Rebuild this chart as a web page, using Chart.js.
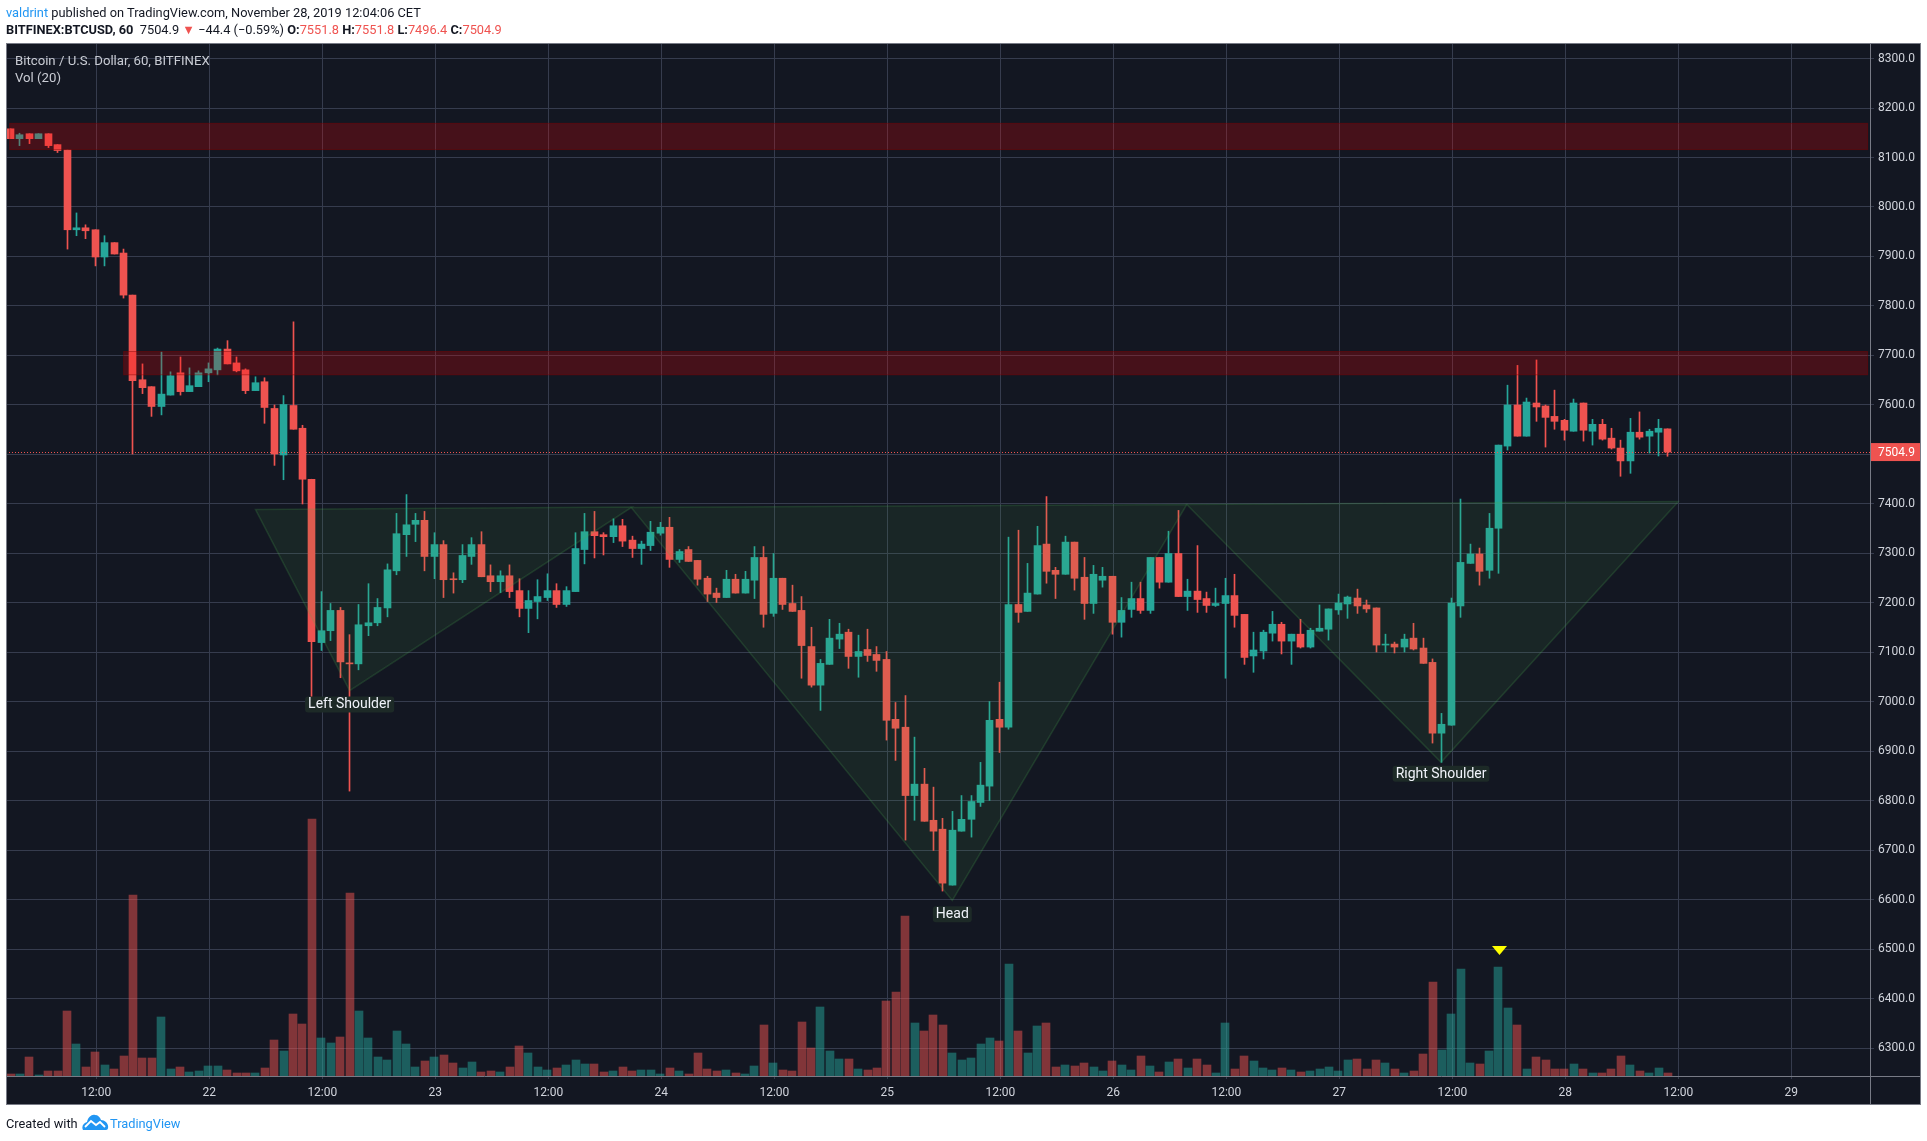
<!DOCTYPE html>
<html>
<head>
<meta charset="utf-8">
<title>BTCUSD 60</title>
<script src="https://cdn.jsdelivr.net/npm/chart.js@4/dist/chart.umd.min.js"></script>
<style>
    html, body { margin: 0; background: #fff; }
    body { width: 1927px; height: 1141px; position: relative; overflow: hidden; font-family: Roboto, sans-serif; }
    canvas { position: absolute; left: 0; top: 0; }
    .line { position: absolute; white-space: nowrap; font-size: 12.8px; color: #131722; }
    .up { color: #2196f3; }
    .down { color: #ef5350; }
    .chartText { color: #c9ccd4; font-size: 13.2px; }
    b { font-weight: 700; }
</style>
</head>
<body>
<canvas id="btcChart" width="1927" height="1141"></canvas>
<div class="line" style="left:6px;top:5px"><span class="up">valdrint</span> published on TradingView.com, November 28, 2019 12:04:06 CET</div>
<div class="line" style="left:6px;top:22px"><b>BITFINEX:BTCUSD, 60</b>&nbsp; 7504.9 <span class="down">▼</span> −44.4 (−0.59%) <b>O:</b><span class="down">7551.8</span> <b>H:</b><span class="down">7551.8</span> <b>L:</b><span class="down">7496.4</span> <b>C:</b><span class="down">7504.9</span></div>
<div class="line chartText" style="left:15px;top:53px">Bitcoin / U.S. Dollar, 60, BITFINEX</div>
<div class="line chartText" style="left:15px;top:70px">Vol (20)</div>
<div class="line" style="left:6px;top:1116px">Created with</div>
<svg style="position:absolute;left:82px;top:1114px" width="27" height="17" viewBox="0 0 27 17">
    <path d="M1 16 C-1 12 2 9 5 8 C6 3 10 0 13 1 C16 1 18 3 19 6 C23 6 27 10 26 14 C26 15 25 16 24 16 Z" fill="#2196f3"/>
    <path d="M3 13 L9 7 L14 11 L18 8 L23 13" fill="none" stroke="#fff" stroke-width="1.8"/>
</svg>
<div class="line up" style="left:110px;top:1116px">TradingView</div>

<script>
// hours counted from 21 Nov 12:00, first candle sits nine hours before that
const firstHour = -9;

const opens = [8158,8138,8148,8138,8148,8126,8115,7954,7958,7954,7899,7928,7907,7822,7651,7637,7597,7620,7665,7627,7637,7665,7671,7713,7685,7671,7629,7647,7593,7499,7599,7553,7450,7120,7144,7185,7079,7077,7154,7160,7190,7265,7338,7359,7367,7294,7318,7249,7247,7294,7318,7255,7243,7255,7225,7189,7203,7211,7225,7197,7223,7308,7344,7338,7334,7356,7327,7310,7316,7341,7353,7288,7308,7286,7250,7220,7211,7248,7220,7246,7292,7179,7250,7199,7185,7112,7034,7076,7127,7141,7092,7106,7096,7086,6965,6949,6811,6834,6761,6743,6630,6739,6763,6797,6830,6965,6949,7197,7183,7218,7319,7266,7258,7323,7252,7199,7246,7254,7161,7187,7209,7185,7292,7242,7300,7213,7224,7209,7195,7199,7215,7177,7093,7103,7139,7157,7123,7137,7111,7143,7147,7186,7198,7210,7196,7190,7115,7117,7111,7129,7109,7080,6937,6953,7194,7280,7299,7266,7351,7517,7600,7537,7604,7598,7577,7569,7547,7604,7547,7561,7533,7513,7487,7545,7537,7545,7551.8];
const closes = [8138,8146,8138,8148,8124,8114,7954,7958,7952,7899,7928,7905,7822,7649,7635,7597,7622,7659,7627,7639,7665,7673,7713,7683,7669,7629,7645,7595,7501,7601,7551,7450,7122,7144,7185,7081,7077,7156,7160,7191,7267,7340,7358,7367,7294,7318,7247,7247,7296,7318,7253,7243,7255,7223,7189,7205,7213,7225,7197,7225,7310,7344,7336,7334,7356,7325,7310,7319,7343,7353,7288,7304,7284,7248,7218,7211,7248,7220,7248,7292,7177,7250,7197,7183,7114,7034,7078,7129,7137,7092,7102,7094,7084,6963,6947,6811,6834,6759,6739,6634,6741,6763,6799,6832,6963,6949,7197,7181,7220,7316,7264,7258,7323,7250,7199,7258,7254,7161,7185,7209,7185,7292,7242,7300,7213,7224,7207,7195,7199,7215,7175,7090,7105,7141,7157,7123,7137,7111,7145,7149,7188,7200,7212,7194,7188,7115,7117,7111,7127,7107,7078,6937,6955,7200,7282,7299,7264,7351,7519,7600,7537,7606,7596,7575,7567,7549,7604,7549,7561,7531,7513,7487,7545,7535,7547,7553,7504.9];
const highs = [8158,8149,8148,8148,8148,8126,8115,7988,7964,7954,7942,7928,7915,7822,7683,7637,7707,7667,7697,7675,7669,7685,7715,7730,7697,7673,7657,7655,7600,7619,7768,7559,7450,7223,7199,7191,7136,7197,7239,7209,7279,7381,7419,7381,7385,7342,7326,7261,7318,7332,7344,7277,7265,7277,7249,7225,7247,7259,7239,7233,7342,7381,7385,7342,7370,7369,7335,7325,7365,7363,7373,7308,7314,7286,7254,7230,7266,7258,7264,7314,7314,7300,7250,7236,7213,7151,7086,7167,7159,7147,7135,7147,7112,7102,6999,7013,6929,6866,6828,6765,6779,6811,6811,6878,7001,7040,7333,7347,7280,7355,7415,7272,7335,7323,7292,7276,7272,7254,7211,7242,7242,7292,7292,7345,7387,7248,7316,7222,7230,7250,7258,7177,7141,7145,7183,7161,7137,7167,7149,7196,7188,7218,7214,7228,7206,7190,7137,7121,7137,7159,7129,7087,6977,7210,7410,7319,7311,7381,7519,7640,7680,7614,7691,7600,7630,7571,7612,7604,7571,7571,7553,7529,7573,7586,7551,7571,7551.8];
const lows = [8138,8124,8128,8138,8120,8110,7915,7942,7936,7881,7881,7905,7816,7501,7623,7577,7580,7620,7620,7627,7637,7647,7661,7683,7667,7623,7629,7563,7478,7449,7551,7400,7002,7104,7124,7049,6820,7065,7134,7154,7172,7257,7294,7324,7265,7249,7211,7220,7241,7278,7253,7223,7221,7211,7172,7140,7168,7205,7191,7193,7223,7279,7291,7297,7322,7314,7292,7278,7306,7337,7272,7282,7284,7236,7203,7201,7211,7220,7220,7209,7151,7173,7187,7183,7048,7030,6983,7076,7108,7068,7050,7082,7062,6923,6882,6721,6761,6759,6700,6618,6630,6739,6727,6789,6801,6898,6945,7161,7183,7218,7240,7209,7258,7226,7167,7179,7232,7137,7131,7171,7179,7179,7230,7242,7213,7185,7181,7181,7193,7048,7151,7076,7060,7087,7123,7097,7076,7109,7109,7143,7125,7177,7169,7179,7181,7101,7101,7099,7101,7105,7078,6917,6878,6953,7171,7280,7236,7250,7260,7509,7537,7537,7567,7515,7551,7529,7547,7527,7519,7529,7511,7456,7462,7531,7503,7497,7496.4];
const volumes = [2,2,19,1,5,5,65,32,9,24,11,7,20,181,18,18,59,7,9,4,5,10,10,6,3,3,3,8,36,25,62,52,257,38,33,39,183,65,38,19,16,45,32,9,15,19,21,13,8,14,4,5,4,9,30,23,9,6,8,11,16,12,12,4,5,9,5,6,6,2,8,5,2,23,7,5,6,3,2,10,51,13,6,5,54,28,69,25,17,17,7,6,8,75,84,160,53,45,61,51,23,16,18,32,38,35,112,45,23,50,53,9,11,10,13,9,5,15,11,6,20,10,4,14,17,8,17,11,3,53,7,20,15,8,6,8,6,4,5,7,9,5,16,17,7,16,13,7,3,5,22,94,26,62,107,13,12,25,109,68,51,7,19,16,7,7,12,7,3,3,7,20,11,5,3,8,3];

const timeTickHours = [0,12,24,36,48,60,72,84,96,108,120,132,144,156,168,180];
const timeTickLabels = ['12:00','22','12:00','23','12:00','24','12:00','25','12:00','26','12:00','27','12:00','28','12:00','29'];
const priceTicks = [6300,6400,6500,6600,6700,6800,6900,7000,7100,7200,7300,7400,7500,7600,7700,7800,7900,8000,8100,8200,8300];

const lastPrice = 7504.9;
const zoneStartHours = [-9.2, 2.9];
const zoneEndHours = [188.1, 188.1];
const zoneTops = [8169, 7708];
const zoneBottoms = [8116, 7661];
// hour, price of each corner
const leftShoulder = [[16.9,7389],[56.9,7394],[26.9,7023]];
const headShape = [[56.8,7393],[115.8,7399],[90.9,6599]];
const rightShoulder = [[115.8,7399],[168,7405],[142.8,6878]];
const labelTexts = ['Left Shoulder','Head','Right Shoulder'];
const labelHours = [26.9, 90.9, 142.8];
const labelPrices = [6995, 6571, 6855];
const arrowHour = [149];
const arrowPrice = [6498];

const UP = '#26a69a';
const DOWN = '#ef5350';
const GRID = '#363c4e';
const AXIS = '#787b86';
const TICK_TEXT = '#d1d4dc';
const AXIS_FONT = { family: 'Roboto, sans-serif', size: 12 };

const panel = { left: 6, top: 44, right: 1920, bottom: 1104 };

function candleColors(up, down) {
    return opens.map((o, i) => closes[i] >= o ? up : down);
}

function hourOf(i) { return firstHour + i; }

function arrowImage() {
    const c = document.createElement('canvas');
    c.width = 15;
    c.height = 9;
    const g = c.getContext('2d');
    g.fillStyle = '#ffff00';
    g.beginPath();
    g.moveTo(0, 0);
    g.lineTo(15, 0);
    g.lineTo(7.5, 9);
    g.closePath();
    g.fill();
    return c;
}

// snap bars on whole pixels so wicks stay one pixel wide,
// candles sit about a pixel left of the time grid in the picture
const snapBars = {
    id: 'snapBars',
    afterDatasetsUpdate(chart) {
        chart.getSortedVisibleDatasetMetas().forEach(meta => {
            if (meta.type !== 'bar') return;
            const even = meta.yAxisID === 'vol';
            meta.data.forEach(el => { el.x = even ? Math.round(el.x) - 1 : Math.floor(el.x) - 0.5; });
        });
    }
};

const panelBack = {
    id: 'panelBack',
    beforeDraw(chart) {
        const ctx = chart.ctx;
        ctx.save();
        ctx.fillStyle = '#131722';
        ctx.fillRect(panel.left, panel.top, panel.right - panel.left, panel.bottom - panel.top);
        ctx.restore();
    }
};

const overlays = {
    id: 'overlays',
    afterDatasetsDraw(chart) {
        const ctx = chart.ctx;
        const xs = chart.scales.x;
        const ys = chart.scales.y;
        const area = chart.chartArea;
        ctx.save();
        ctx.beginPath();
        ctx.rect(area.left, area.top, area.right - area.left, area.bottom - area.top);
        ctx.clip();

        [leftShoulder, headShape, rightShoulder].forEach(shape => {
            ctx.beginPath();
            shape.forEach((p, i) => {
                const px = xs.getPixelForValue(p[0]);
                const py = ys.getPixelForValue(p[1]);
                if (i === 0) ctx.moveTo(px, py); else ctx.lineTo(px, py);
            });
            ctx.closePath();
            ctx.fillStyle = 'rgba(76, 175, 80, 0.1)';
            ctx.fill();
            ctx.strokeStyle = 'rgba(76, 175, 80, 0.2)';
            ctx.lineWidth = 1.5;
            ctx.stroke();
        });

        zoneTops.forEach((top, i) => {
            const x1 = xs.getPixelForValue(zoneStartHours[i]);
            const x2 = xs.getPixelForValue(zoneEndHours[i]);
            const y1 = ys.getPixelForValue(top);
            const y2 = ys.getPixelForValue(zoneBottoms[i]);
            ctx.fillStyle = 'rgba(255, 0, 0, 0.22)';
            ctx.fillRect(x1, y1, x2 - x1, y2 - y1);
            ctx.strokeStyle = 'rgba(128, 0, 0, 0.45)';
            ctx.lineWidth = 1;
            ctx.strokeRect(x1, y1, x2 - x1, y2 - y1);
        });

        // last price, dotted
        const lastY = Math.round(ys.getPixelForValue(lastPrice)) + 0.5;
        ctx.strokeStyle = DOWN;
        ctx.setLineDash([1, 2]);
        ctx.beginPath();
        ctx.moveTo(area.left, lastY);
        ctx.lineTo(area.right, lastY);
        ctx.stroke();
        ctx.setLineDash([]);

        ctx.font = "14px Roboto, sans-serif";
        ctx.textAlign = 'center';
        ctx.textBaseline = 'middle';
        labelTexts.forEach((text, i) => {
            const cx = xs.getPixelForValue(labelHours[i]);
            const cy = ys.getPixelForValue(labelPrices[i]);
            const w = ctx.measureText(text).width + 6;
            ctx.fillStyle = '#1d2a27';
            ctx.beginPath();
            ctx.roundRect(cx - w / 2, cy - 8, w, 16, 3);
            ctx.fill();
            ctx.fillStyle = '#f0f3fa';
            ctx.fillText(text, cx, cy + 0.5);
        });
        ctx.restore();
    },
    afterDraw(chart) {
        const ctx = chart.ctx;
        const area = chart.chartArea;
        const ys = chart.scales.y;
        ctx.save();
        ctx.strokeStyle = AXIS;
        ctx.lineWidth = 1;
        ctx.beginPath();
        ctx.moveTo(area.right + 0.5, panel.top);
        ctx.lineTo(area.right + 0.5, panel.bottom);
        ctx.moveTo(area.left, area.bottom + 0.5);
        ctx.lineTo(panel.right, area.bottom + 0.5);
        ctx.stroke();
        ctx.strokeRect(panel.left + 0.5, panel.top - 0.5, panel.right - panel.left, panel.bottom - panel.top + 1);

        // price tag on the axis
        const tagY = ys.getPixelForValue(lastPrice);
        ctx.fillStyle = DOWN;
        ctx.fillRect(area.right + 1, tagY - 9, panel.right - area.right - 1, 18);
        ctx.fillStyle = '#fff';
        ctx.font = '12px ' + AXIS_FONT.family;
        ctx.textAlign = 'left';
        ctx.textBaseline = 'middle';
        ctx.fillText(lastPrice.toFixed(1), area.right + 8, tagY + 1);
        ctx.restore();
    }
};

new Chart(document.getElementById('btcChart'), {
    type: 'bar',
    data: {
        datasets: [
            {
                // volume pane, heights read in pixels of the picture
                data: volumes.map((v, i) => ({ x: hourOf(i), y: v })),
                yAxisID: 'vol',
                backgroundColor: candleColors('rgba(38,166,154,0.5)', 'rgba(239,83,80,0.5)'),
                barThickness: 8,
                order: 3
            },
            {
                data: highs.map((h, i) => ({ x: hourOf(i), y: [lows[i], h] })),
                backgroundColor: candleColors(UP, DOWN),
                barThickness: 1,
                order: 2
            },
            {
                data: opens.map((o, i) => ({ x: hourOf(i), y: [o, closes[i]] })),
                backgroundColor: candleColors(UP, DOWN),
                barThickness: 7,
                order: 1
            },
            {
                type: 'scatter',
                data: arrowHour.map((h, i) => ({ x: h, y: arrowPrice[i] })),
                pointStyle: arrowImage(),
                order: 0
            }
        ]
    },
    options: {
        responsive: false,
        animation: false,
        devicePixelRatio: 1,
        layout: { padding: { left: panel.left, top: panel.top, right: 1927 - panel.right, bottom: 1141 - panel.bottom } },
        plugins: { legend: { display: false }, tooltip: { enabled: false } },
        datasets: { bar: { grouped: false } },
        scales: {
            x: {
                type: 'linear',
                offset: false,
                min: -9.59,
                max: 188.35,
                grid: { color: GRID, offset: false, tickLength: 3 },
                border: { display: false },
                afterBuildTicks(scale) { scale.ticks = timeTickHours.map(v => ({ value: v })); },
                afterFit(scale) { scale.height = 28; },
                ticks: {
                    color: TICK_TEXT,
                    font: AXIS_FONT,
                    padding: 7,
                    autoSkip: false,
                    maxRotation: 0,
                    callback(value, i) { return timeTickLabels[i]; }
                }
            },
            y: {
                position: 'right',
                min: 6244.4,
                max: 8329.3,
                grid: { color: GRID, tickLength: 4 },
                border: { display: false },
                afterBuildTicks(scale) { scale.ticks = priceTicks.map(v => ({ value: v })); },
                afterFit(scale) { scale.width = 50; },
                ticks: {
                    color: TICK_TEXT,
                    font: AXIS_FONT,
                    padding: 4,
                    callback(value) { return value.toFixed(1); }
                }
            },
            vol: {
                display: false,
                min: 0,
                max: 1032
            }
        }
    },
    plugins: [panelBack, snapBars, overlays]
});
</script>
</body>
</html>
